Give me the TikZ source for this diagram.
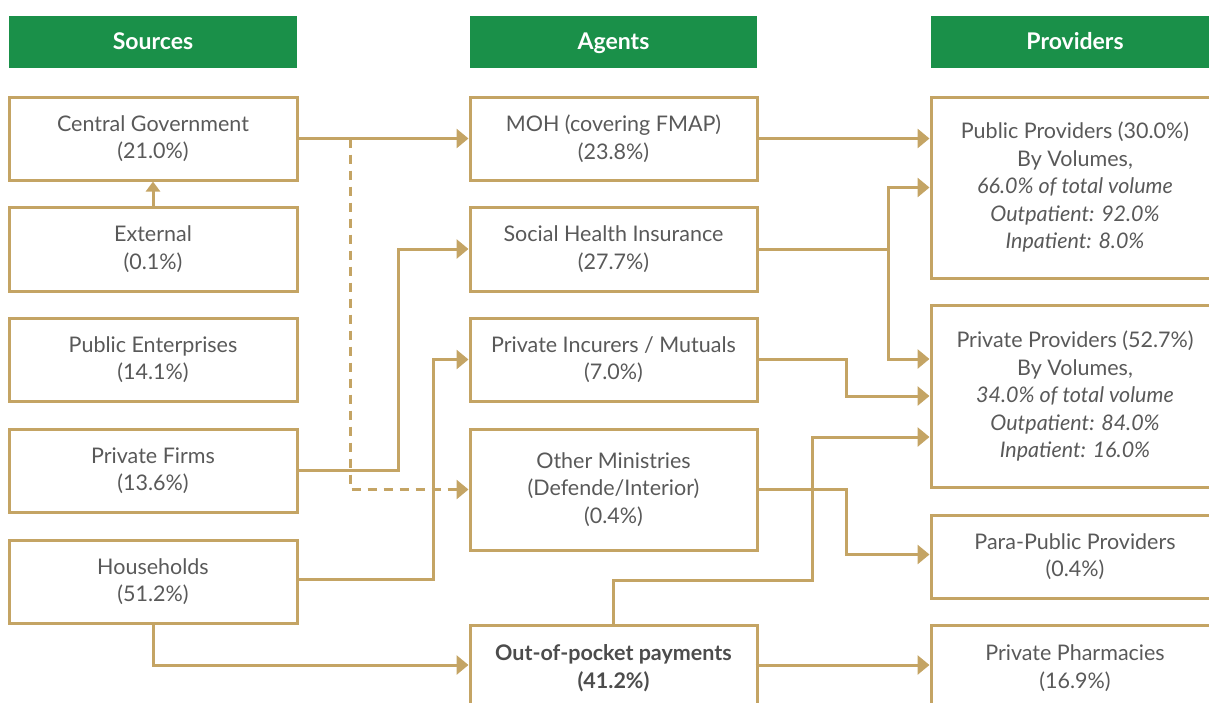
\documentclass[tikz,border=0pt]{standalone}
\usepackage{fontspec}
\setmainfont{Lato}
\usetikzlibrary{arrows.meta}
\definecolor{gold}{HTML}{C4A464}
\definecolor{hgreen}{HTML}{1A9049}
\definecolor{tgray}{HTML}{595959}
\begin{document}
\begin{tikzpicture}[x=1pt,y=-1pt,
  box/.style={draw=gold,line width=3pt,text=tgray,align=center,inner sep=0pt,
    font=\fontsize{21.5}{27.5}\selectfont},
  head/.style={fill=hgreen,text=white,inner sep=0pt,minimum height=52pt,
    text height=16pt,text depth=2pt,
    font=\fontsize{23}{26}\selectfont\bfseries},
  link/.style={draw=gold,line width=3pt,-{Triangle[length=12pt,width=19pt]}},
  slink/.style={draw=gold,line width=3pt,-{Triangle[length=10pt,width=14pt]}}]
\useasboundingbox (0,0) rectangle (1209,702);
\clip (0,0) rectangle (1209,702);
% headers
\node[head,minimum width=288pt] (hs) at (153,42) {Sources};
\node[head,minimum width=287pt] (ha) at (613.5,42) {Agents};
\node[head,minimum width=288pt] (hp) at (1075,42) {Providers};
% sources
\node[box,minimum width=288pt,minimum height=83pt] (cg) at (153,138.5) {Central Government\\(21.0\%)};
\node[box,minimum width=288pt,minimum height=84pt] (ext) at (153,249) {External\\(0.1\%)};
\node[box,minimum width=288pt,minimum height=83pt] (pe) at (153,359.5) {Public Enterprises\\(14.1\%)};
\node[box,minimum width=288pt,minimum height=83pt] (pf) at (153,470.5) {Private Firms\\(13.6\%)};
\node[box,minimum width=288pt,minimum height=83pt] (hh) at (153,581.5) {Households\\(51.2\%)};
% agents
\node[box,minimum width=287pt,minimum height=83pt] (moh) at (613.5,138.5) {MOH (covering FMAP)\\(23.8\%)};
\node[box,minimum width=287pt,minimum height=84pt] (shi) at (613.5,249) {Social Health Insurance\\(27.7\%)};
\node[box,minimum width=287pt,minimum height=83pt] (pim) at (613.5,359.5) {Private Incurers / Mutuals\\(7.0\%)};
\node[box,minimum width=287pt,minimum height=121pt] (om) at (613.5,489.5) {Other Ministries\\(Defende/Interior)\\(0.4\%)};
\node[box,minimum width=287pt,minimum height=86pt,text=tgray!85!black] (oop) at (613.5,668) {\bfseries Out-of-pocket payments\\\bfseries(41.2\%)};
% providers
\node[box,minimum width=288pt,minimum height=181pt] (pub) at (1075,187.5) {Public Providers (30.0\%)\\By Volumes,\\\itshape 66.0\% of total volume\\\itshape Outpatient: 92.0\%\\\itshape Inpatient: 8.0\%};
\node[box,minimum width=288pt,minimum height=182pt] (priv) at (1075,396) {Private Providers (52.7\%)\\By Volumes,\\\itshape 34.0\% of total volume\\\itshape Outpatient: 84.0\%\\\itshape Inpatient: 16.0\%};
\node[box,minimum width=288pt,minimum height=83pt] (para) at (1075,556.5) {Para-Public Providers\\(0.4\%)};
\node[box,minimum width=288pt,minimum height=86pt] (pharm) at (1075,668) {Private Pharmacies\\(16.9\%)};
% connectors
\draw[link] (cg.east) -- (moh.west);
\draw[link,dash pattern=on 9pt off 7pt] ([xshift=52pt]cg.east) |- (om.west);
\draw[slink] (ext.north) -- (cg.south);
\draw[link] (pf.east) -- ++(100,0) |- (shi.west);
\draw[link] ([yshift=2pt]hh.east) -- ++(135,0) |- (pim.west);
\coordinate (oopin) at ([yshift=3pt]oop.west);
\draw[link] (hh.south) |- (oopin);
\draw[link] (moh.east) -- (moh.east -| pub.west);
\coordinate (j) at ([xshift=130pt]shi.east);
\draw[link] (shi.east) -- (j) |- (pub.west);
\draw[link] (j) |- ([yshift=37pt]priv.west);
\draw[link] (pim.east) -- ++(88,0) |- (priv.west);
\draw[link] (oop.north) -- ++(0,-43) -- ++(199,0) |- ([yshift=-41pt]priv.west);
\draw[link] (om.east) -- ++(88,0) |- ([yshift=2pt]para.west);
\draw[link] (oopin) ++(287,0) -- (oopin -| pharm.west);
\end{tikzpicture}
\end{document}
